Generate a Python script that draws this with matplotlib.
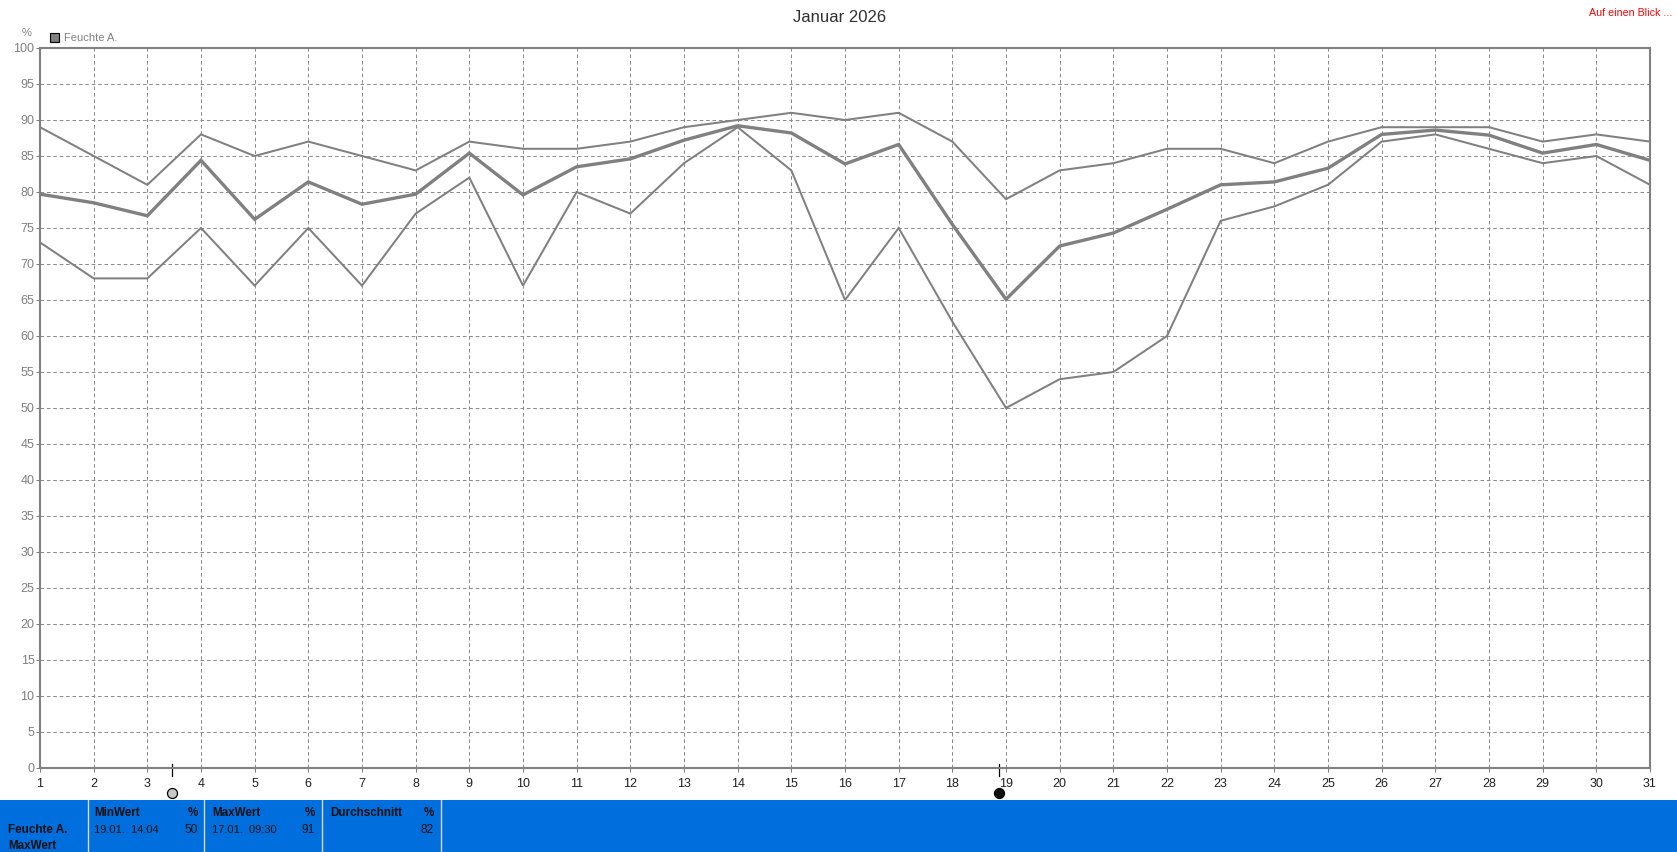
import matplotlib
matplotlib.use("Agg")
import matplotlib.pyplot as plt
from matplotlib.patches import Rectangle
from matplotlib.lines import Line2D

plt.rcParams['font.family'] = ['Liberation Sans', 'DejaVu Sans']

days = list(range(1, 32))
feuchte_max = [89,85,81,88,85,87,85,83,87,86,86,87,89,90,91,90,91,87,79,83,84,86,86,84,87,89,89,89,87,88,87]
feuchte_avg = [79.7,78.5,76.7,84.4,76.2,81.4,78.3,79.7,85.4,79.6,83.5,84.6,87.2,89.2,88.2,83.9,86.6,75.5,65.1,72.5,74.3,77.6,81.0,81.4,83.3,88.0,88.6,87.9,85.4,86.6,84.4]
feuchte_min = [73,68,68,75,67,75,67,77,82,67,80,77,84,89,83,65,75,62,50,54,55,60,76,78,81,87,88,86,84,85,81]
y_ticks = list(range(0, 101, 5))
moon_days = [3.46, 18.87]
moon_faces = ['#c8c8c8', '#101010']
title = "Januar 2026"
legend_label = "Feuchte A."
link_text = "Auf einen Blick ..."
unit = "%"
footer_row = "Feuchte A."
footer_kind = "MaxWert"
col_heads = ["MinWert", "MaxWert", "Durchschnitt"]
col_dates = ["19.01.  14:04", "17.01.  09:30", ""]
col_vals = ["50", "91", "82"]

W, H = 1677, 852
GRAY = '#808080'
BLUE = '#006EDC'
fig = plt.figure(figsize=(W/100, H/100), dpi=100, facecolor='white')
L, R, T, B = 40, 1650, 48, 768
ax = fig.add_axes([L/W, 1-B/H, (R-L)/W, (B-T)/H])
ax.set_xlim(1, 31)
ax.set_ylim(0, 100)
ax.set_xticks(days)
ax.set_yticks(y_ticks)
ax.grid(True, color='#8c8c8c', lw=0.72, linestyle=(0, (3.6, 2.8)))
ax.set_axisbelow(True)
for s in ax.spines.values():
    s.set_color(GRAY)
    s.set_linewidth(1.5)
ax.tick_params(axis='x', length=3, width=0.72, color=GRAY, labelsize=9, labelcolor='#202020', pad=4)
ax.tick_params(axis='y', length=3, width=0.72, color=GRAY, labelsize=9, labelcolor=GRAY, pad=1)

ax.plot(days, feuchte_max, color=GRAY, lw=1.45, solid_joinstyle='miter')
ax.plot(days, feuchte_min, color=GRAY, lw=1.45, solid_joinstyle='miter')
ax.plot(days, feuchte_avg, color=GRAY, lw=2.4, solid_joinstyle='miter')

def px(x, y):
    return x/W, 1-y/H

# Title, link, unit, legend
fig.text(*px(840, 17), title, ha='center', va='center', fontsize=12, color='#303030')
fig.text(*px(1677-5, 12.5), link_text, ha='right', va='center', fontsize=7.7, color='#ff0000')
fig.text(*px(27, 32.5), unit, ha='center', va='center', fontsize=8, color=GRAY)
fig.add_artist(Rectangle(px(50, 42), 9/W, 9/H, transform=fig.transFigure, fc=GRAY, ec='black', lw=0.8))
fig.text(*px(64, 38), legend_label, ha='left', va='center', fontsize=8.0, color=GRAY)

# Moon phase marks
trans = ax.get_xaxis_transform()
for d, fc in zip(moon_days, moon_faces):
    ax.add_line(Line2D([d, d], [-8/720, 4/720], transform=trans, color='black', lw=0.9, clip_on=False))
    ax.plot([d], [-25/720], transform=trans, marker='o', ms=7.2, mfc=fc, mec='black', mew=0.9, clip_on=False, linestyle='none')

# Footer
fig.add_artist(Rectangle((0, 0), 1, 52/H, transform=fig.transFigure, fc=BLUE, ec='none'))
for x in [88, 204, 322, 441]:
    fig.add_artist(Line2D([x/W, x/W], [0, 52/H], transform=fig.transFigure, color='#d8d8d8', lw=1.0))
fig.text(*px(8, 830), footer_row, ha='left', va='center', fontsize=8.4, fontweight='bold', color='#101010')
fig.text(*px(8, 846), footer_kind, ha='left', va='center', fontsize=8.4, fontweight='bold', color='#101010')
cols = [(94, 198), (212, 315), (330, 434)]
for (x0, x1), h, dt, v in zip(cols, col_heads, col_dates, col_vals):
    fig.text(*px(x0, 813), h, ha='left', va='center', fontsize=8.4, fontweight='bold', color='#101010')
    fig.text(*px(x1, 813), unit, ha='right', va='center', fontsize=8.4, fontweight='bold', color='#101010')
    fig.text(*px(x0, 830), dt, ha='left', va='center', fontsize=8.0, color='#101010')
    fig.text(*px(x1, 830), v, ha='right', va='center', fontsize=8.6, color='#101010')

fig.savefig('out.png', dpi=100, facecolor='white')
